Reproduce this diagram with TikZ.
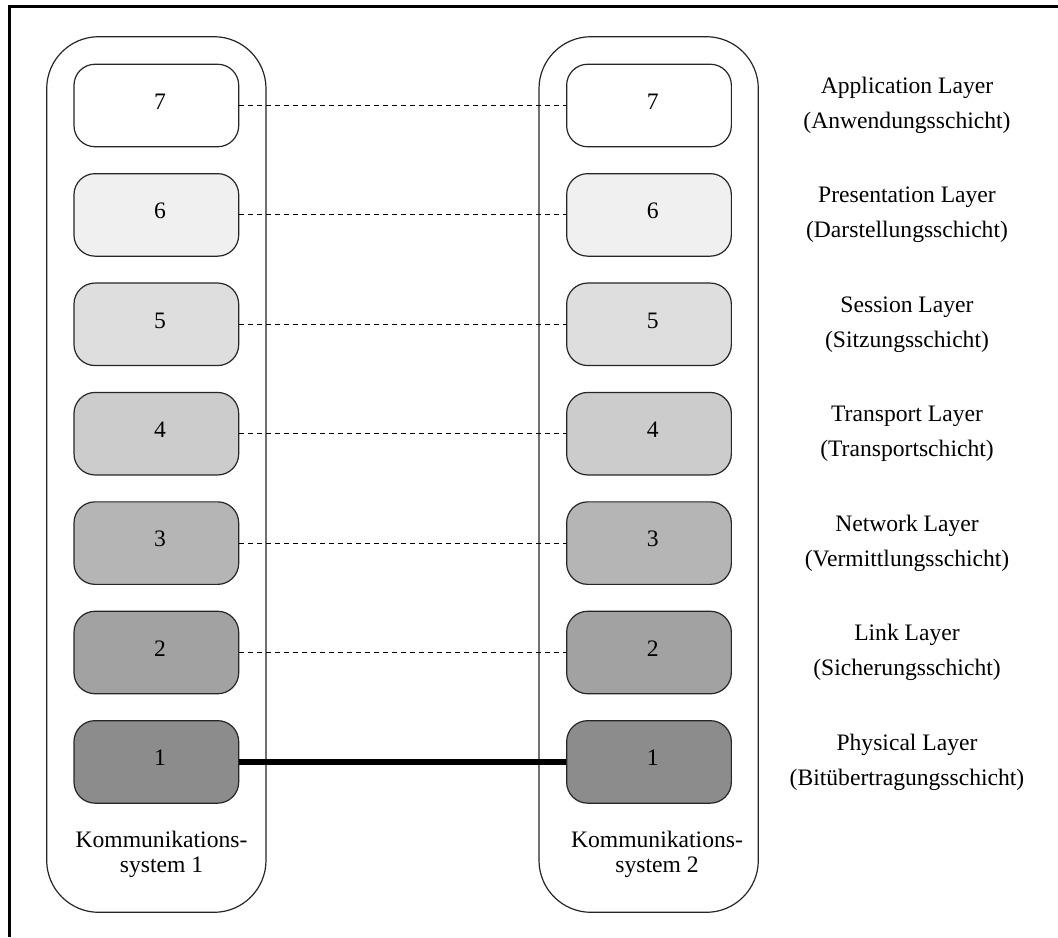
\documentclass[tikz,border=0pt]{standalone}
\usepackage{fontspec}
\setmainfont{Liberation Serif}
% grey levels of the seven layer boxes
\definecolor{fillseven}{gray}{1.00}
\definecolor{fillsix}{gray}{0.94}
\definecolor{fillfive}{gray}{0.87}
\definecolor{fillfour}{gray}{0.80}
\definecolor{fillthree}{gray}{0.71}
\definecolor{filltwo}{gray}{0.635}
\definecolor{fillone}{gray}{0.55}
\begin{document}
\begin{tikzpicture}[x=0.5pt,y=-0.5pt,
  every node/.style={font=\fontsize{11.8pt}{14pt}\selectfont},
  system/.style={draw=black!85, line width=0.6pt, rounded corners=26pt,
    minimum width=109.65pt, minimum height=437.8pt, inner sep=0pt},
  layerbox/.style={draw=black!85, line width=0.6pt, rounded corners=10.5pt,
    minimum width=82.35pt, minimum height=41.25pt, inner sep=0pt, text depth=4pt},
  layername/.style={align=center, font=\fontsize{11.8pt}{17.5pt}\selectfont},
  caption/.style={align=center, font=\fontsize{11.8pt}{12.35pt}\selectfont},
  peerlink/.style={line width=0.5pt, dash pattern=on 2.5pt off 2pt},
  wire/.style={line width=3pt}]
  % page and frame
  \path[fill=white, use as bounding box] (0,0) rectangle (1058,937);
  \draw[line width=1.25pt] (1058,6.5) -- (9.5,6.5) -- (9.5,937);

  % the two communication systems
  \node[system] (sysA) at (156.35,474.5) {};
  \node[system] (sysB) at (648.65,474.5) {};
  \node[caption] (capA) at (161.5,854) {Kommunikations-\\system 1};
  \node[caption] (capB) at (657,854) {Kommunikations-\\system 2};

  % layer stacks, peer links and layer names
  \foreach \n/\y/\c/\name in {
      7/105.5/fillseven/{Application Layer\\(Anwendungsschicht)},
      6/214.9/fillsix/{Presentation Layer\\(Darstellungsschicht)},
      5/324.3/fillfive/{Session Layer\\(Sitzungsschicht)},
      4/433.7/fillfour/{Transport Layer\\(Transportschicht)},
      3/543.1/fillthree/{Network Layer\\(Vermittlungsschicht)},
      2/652.5/filltwo/{Link Layer\\(Sicherungsschicht)},
      1/761.9/fillone/{Physical Layer\\(Bitübertragungsschicht)}} {
    \node[layerbox, fill=\c] (A\n) at (156.35,\y) {\hspace*{3.7pt}\n};
    \node[layerbox, fill=\c] (B\n) at (649,\y) {\hspace*{3.7pt}\n};
    \node[layername] (N\n) at (907,\y) {\name};
  }
  \foreach \n in {7,6,5,4,3,2} {
    \draw[peerlink] (A\n.east) -- (B\n.west);
  }
  \draw[wire] (A1.east) -- (B1.west);
\end{tikzpicture}
\end{document}
